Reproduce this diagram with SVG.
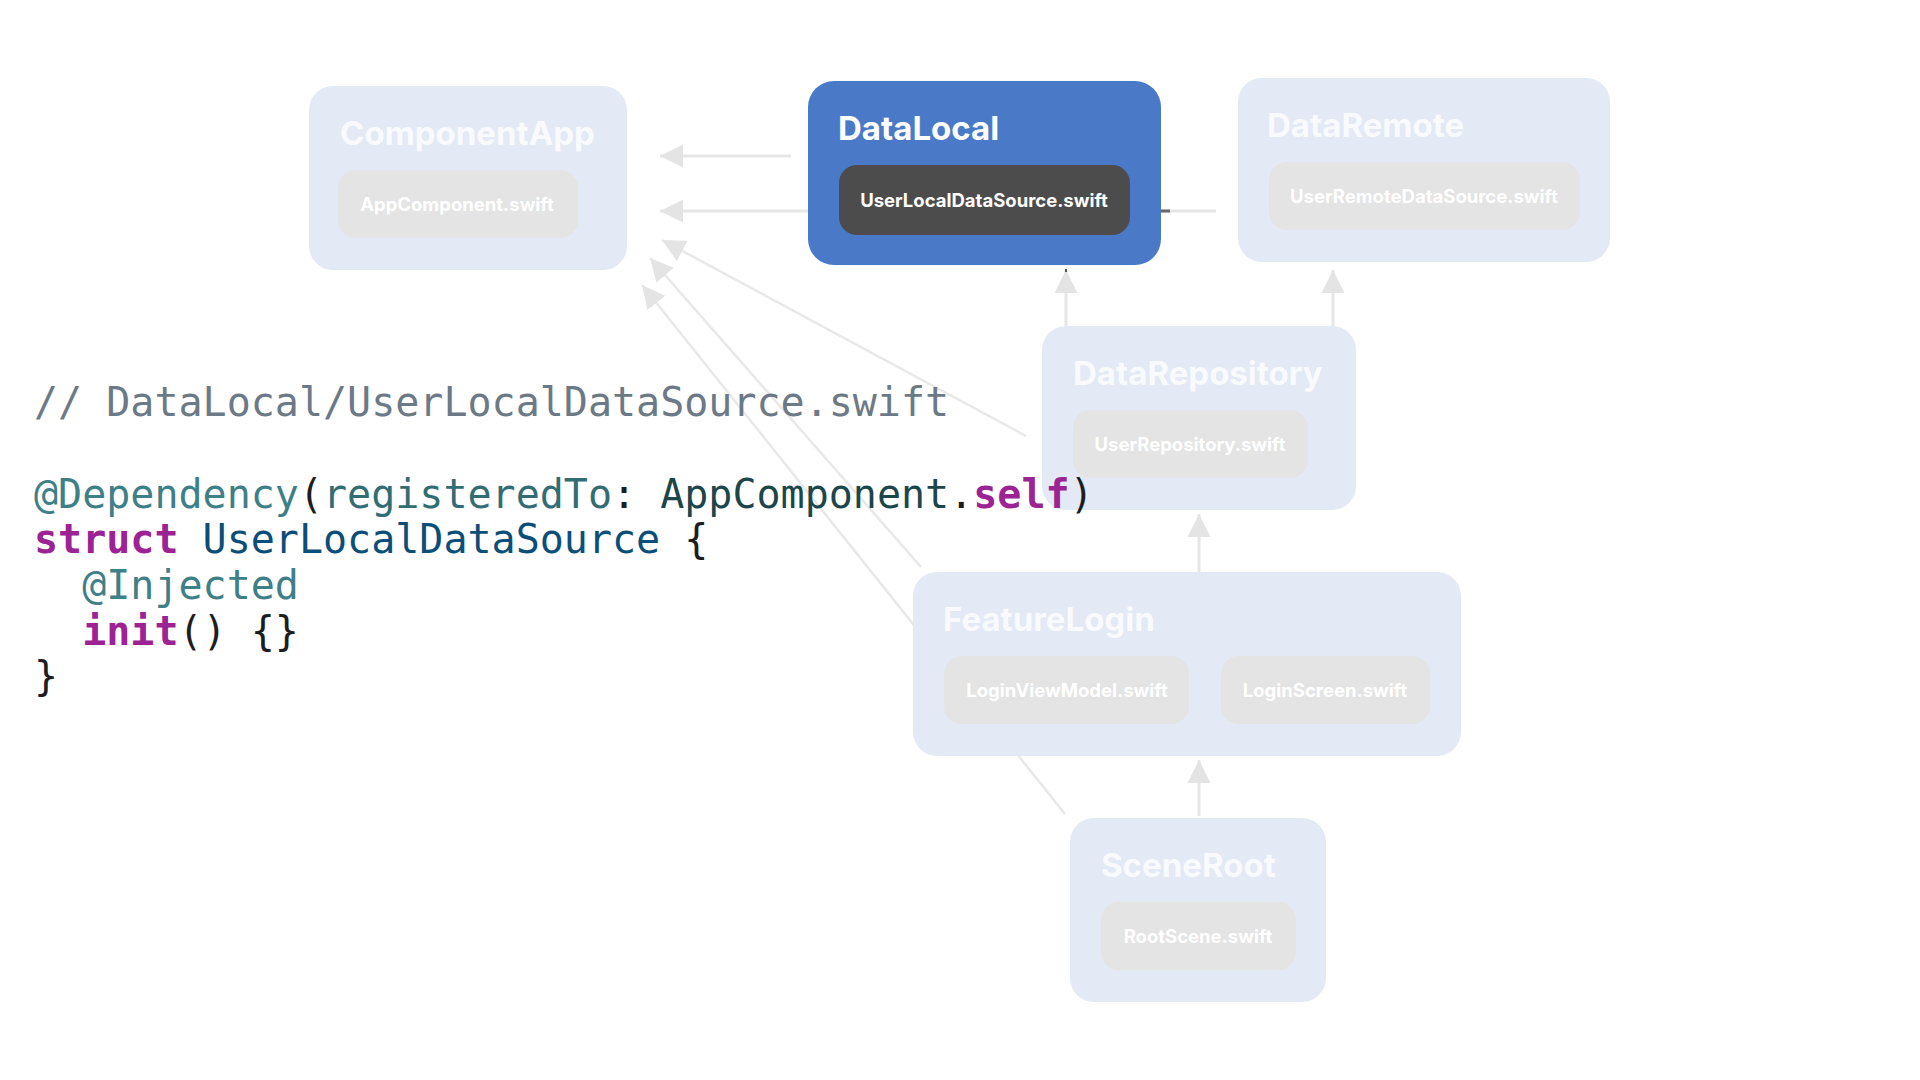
<svg xmlns="http://www.w3.org/2000/svg" width="1920" height="1080" viewBox="0 0 1920 1080">
<defs>
<style>
.outer{fill:#e3e9f5}
.inner{fill:#e4e4e4}
.title{font-family:Inter,"Noto Sans",sans-serif;font-weight:700;font-size:33px;fill:#f9fafd}
.lbl{font-family:Inter,"Noto Sans",sans-serif;font-weight:700;font-size:18.5px;fill:#ffffff;text-anchor:middle}
.edge{stroke:#e6e6e6;stroke-width:3;fill:none}
.diag{stroke:#e8e8e8;stroke-width:2.5;fill:none}
.code{font-family:"DejaVu Sans Mono","Liberation Mono",monospace;font-size:40px;fill:#1d1d1f;white-space:pre}
.kw{fill:#9b2393;font-weight:700}
.cm{fill:#6c7986}
.at{fill:#3e8087}
.prop{fill:#326d74}
.typ{fill:#1c464a}
.decl{fill:#0b4f79}
</style>
<marker id="ah" viewBox="0 0 10 10" refX="10" refY="5" markerUnits="userSpaceOnUse" markerWidth="23" markerHeight="25" orient="auto">
<path d="M0,0 L10,5 L0,10 Z" fill="#e4e4e4"/>
</marker>
</defs>
<rect width="1920" height="1080" fill="#ffffff"/>
<g id="connectors">
<line class="edge" x1="791" y1="156" x2="660" y2="156" marker-end="url(#ah)"/>
<line class="edge" x1="830" y1="211" x2="660" y2="211" marker-end="url(#ah)"/>
<line class="edge" x1="1161" y1="211" x2="1216" y2="211"/>
<line x1="1161" y1="211" x2="1170" y2="211" stroke="#6a6a6a" stroke-width="3"/>
<line class="edge" x1="1066" y1="326" x2="1066" y2="270" marker-end="url(#ah)"/>
<line x1="1066" y1="269" x2="1066" y2="272" stroke="#555555" stroke-width="2"/>
<line class="edge" x1="1333" y1="326" x2="1333" y2="270" marker-end="url(#ah)"/>
<line class="edge" x1="1199" y1="572" x2="1199" y2="514" marker-end="url(#ah)"/>
<line class="edge" x1="1199" y1="816" x2="1199" y2="760" marker-end="url(#ah)"/>
<line class="diag" x1="1026" y1="436" x2="662" y2="240" marker-end="url(#ah)"/>
<line class="diag" x1="921" y1="567" x2="650" y2="258" marker-end="url(#ah)"/>
<line class="diag" x1="1065" y1="814" x2="642" y2="285" marker-end="url(#ah)"/>
</g>
<g id="ComponentApp">
<rect class="outer" x="309" y="86" width="318" height="184" rx="24"/>
<text class="title" x="340" y="145">ComponentApp</text>
<rect class="inner" x="338" y="170" width="240" height="68" rx="18"/>
<text class="lbl" x="457" y="211">AppComponent.swift</text>
</g>
<g id="DataLocal">
<rect x="808" y="81" width="353" height="184" rx="26" fill="#4a7ac7"/>
<text class="title" x="838" y="140" style="fill:#ffffff">DataLocal</text>
<rect x="839" y="165" width="291" height="70" rx="18" fill="#4c4c4c"/>
<text class="lbl" x="984" y="207">UserLocalDataSource.swift</text>
</g>
<g id="DataRemote">
<rect class="outer" x="1238" y="78" width="372" height="184" rx="24"/>
<text class="title" x="1267" y="137">DataRemote</text>
<rect class="inner" x="1269" y="162" width="311" height="68" rx="18"/>
<text class="lbl" x="1424" y="203">UserRemoteDataSource.swift</text>
</g>
<g id="DataRepository">
<rect class="outer" x="1042" y="326" width="314" height="184" rx="24"/>
<text class="title" x="1073" y="385">DataRepository</text>
<rect class="inner" x="1073" y="410" width="235" height="68" rx="18"/>
<text class="lbl" x="1190" y="451">UserRepository.swift</text>
</g>
<g id="FeatureLogin">
<rect class="outer" x="913" y="572" width="548" height="184" rx="24"/>
<text class="title" x="943" y="631">FeatureLogin</text>
<rect class="inner" x="944" y="656" width="245" height="68" rx="18"/>
<text class="lbl" x="1067" y="697">LoginViewModel.swift</text>
<rect class="inner" x="1221" y="656" width="209" height="68" rx="18"/>
<text class="lbl" x="1325" y="697">LoginScreen.swift</text>
</g>
<g id="SceneRoot">
<rect class="outer" x="1070" y="818" width="256" height="184" rx="24"/>
<text class="title" x="1101" y="877">SceneRoot</text>
<rect class="inner" x="1101" y="902" width="195" height="68" rx="18"/>
<text class="lbl" x="1198" y="943">RootScene.swift</text>
</g>
<g id="code">
<text class="code" x="34" y="416"><tspan class="cm">// DataLocal/UserLocalDataSource.swift</tspan></text>
<text class="code" x="34" y="508"><tspan class="at">@Dependency</tspan>(<tspan class="prop">registeredTo</tspan>: <tspan class="typ">AppComponent</tspan>.<tspan class="kw">self</tspan>)</text>
<text class="code" x="34" y="553"><tspan class="kw">struct</tspan> <tspan class="decl">UserLocalDataSource</tspan> {</text>
<text class="code" x="34" y="599">  <tspan class="at">@Injected</tspan></text>
<text class="code" x="34" y="645">  <tspan class="kw">init</tspan>() {}</text>
<text class="code" x="34" y="690">}</text>
</g>
</svg>
